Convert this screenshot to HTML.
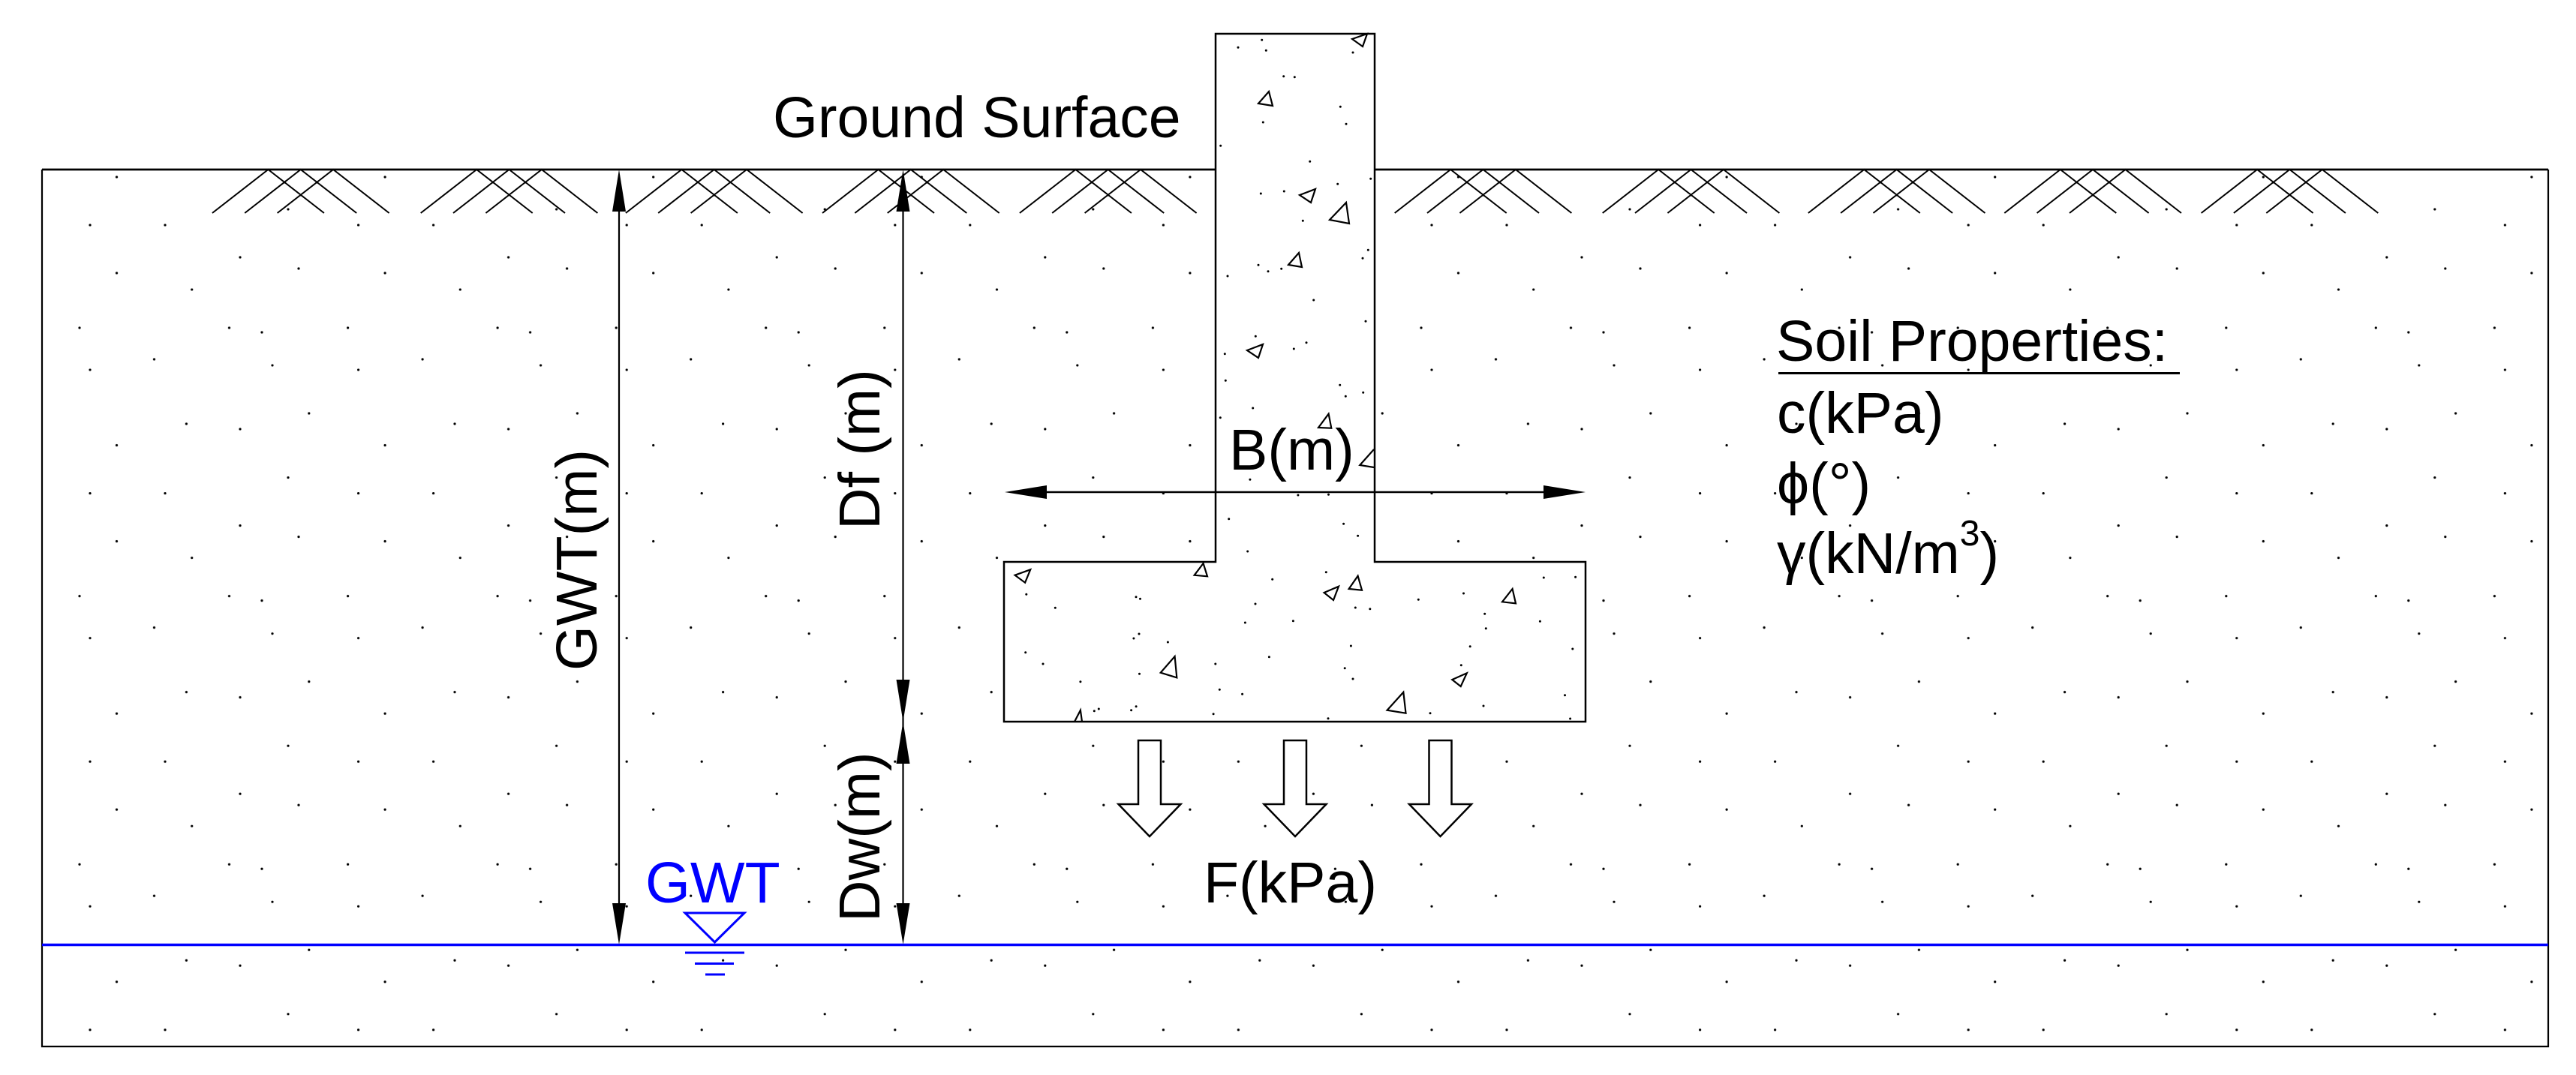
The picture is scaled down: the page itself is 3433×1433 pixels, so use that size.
<!DOCTYPE html>
<html>
<head>
<meta charset="utf-8">
<style>
html,body{margin:0;padding:0;background:#fff;}
svg{display:block;}
text{font-family:"Liberation Sans",Arial,"DejaVu Sans",sans-serif;}
</style>
</head>
<body>
<svg width="3433" height="1433" viewBox="0 0 3433 1433" xmlns="http://www.w3.org/2000/svg">
<defs>
<pattern id="sand" patternUnits="userSpaceOnUse" x="56" y="226" width="357.6" height="357.6">
<g fill="#000">
<circle cx="99.5" cy="10" r="1.6"/>
<circle cx="328" cy="53" r="1.6"/>
<circle cx="64" cy="74" r="1.6"/>
<circle cx="164" cy="74" r="1.6"/>
<circle cx="264" cy="117" r="1.6"/>
<circle cx="342" cy="132" r="1.6"/>
<circle cx="99.5" cy="138" r="1.6"/>
<circle cx="199.7" cy="160" r="1.6"/>
<circle cx="50" cy="211" r="1.6"/>
<circle cx="249.5" cy="211" r="1.6"/>
<circle cx="293" cy="217" r="1.6"/>
<circle cx="149.5" cy="253" r="1.6"/>
<circle cx="307" cy="261" r="1.6"/>
<circle cx="64" cy="267" r="1.6"/>
<circle cx="355.8" cy="325" r="1.6"/>
<circle cx="192.4" cy="339" r="1.6"/>
<circle cx="264" cy="346" r="1.6"/>
</g>
</pattern>
</defs>
<rect x="0" y="0" width="3433" height="1433" fill="#fff"/>
<!-- soil dots -->
<rect x="56" y="226" width="3340" height="1169" fill="url(#sand)"/>

<!-- concrete footing & column -->
<path d="M1620,749 V45 H1832 V749 H2113 V962 H1338 V749 Z" fill="#fff" stroke="#000" stroke-width="2.5" stroke-linejoin="miter"/>

<!-- concrete dots -->
<g fill="#000">
<circle cx="1681.7" cy="53.3" r="1.5"/><circle cx="1650" cy="63.3" r="1.5"/><circle cx="1687.3" cy="67.3" r="1.5"/><circle cx="1803" cy="70" r="1.5"/>
<circle cx="1710.7" cy="101.7" r="1.5"/><circle cx="1725.3" cy="102.7" r="1.5"/><circle cx="1786.3" cy="142.3" r="1.5"/><circle cx="1683.3" cy="163" r="1.5"/>
<circle cx="1794" cy="165.3" r="1.5"/><circle cx="1626.7" cy="194.3" r="1.5"/><circle cx="1745.7" cy="215.3" r="1.5"/><circle cx="1782.7" cy="245.3" r="1.5"/>
<circle cx="1826.7" cy="238.3" r="1.5"/><circle cx="1680.3" cy="258" r="1.5"/><circle cx="1711.3" cy="255" r="1.5"/><circle cx="1736.3" cy="294.3" r="1.5"/>
<circle cx="1823.3" cy="333.3" r="1.5"/><circle cx="1816" cy="344.3" r="1.5"/><circle cx="1677" cy="353.3" r="1.5"/><circle cx="1690" cy="361.7" r="1.5"/>
<circle cx="1707.7" cy="358.3" r="1.5"/><circle cx="1636" cy="368" r="1.5"/><circle cx="1750.7" cy="400" r="1.5"/><circle cx="1820" cy="428.3" r="1.5"/>
<circle cx="1673.3" cy="448.3" r="1.5"/><circle cx="1741" cy="456.7" r="1.5"/><circle cx="1724.3" cy="465" r="1.5"/><circle cx="1632.3" cy="471.7" r="1.5"/>
<circle cx="1633.3" cy="507.3" r="1.5"/><circle cx="1785.7" cy="513.3" r="1.5"/><circle cx="1816.7" cy="523.3" r="1.5"/><circle cx="1793.3" cy="528.3" r="1.5"/>
<circle cx="1669.7" cy="544" r="1.5"/><circle cx="1626.3" cy="556.7" r="1.5"/><circle cx="1665.9" cy="639.3" r="1.5"/><circle cx="1729.9" cy="660" r="1.5"/>
<circle cx="1770.5" cy="659.3" r="1.5"/><circle cx="1637.7" cy="691.7" r="1.5"/><circle cx="1790.6" cy="698.3" r="1.5"/><circle cx="1809.6" cy="714.3" r="1.5"/>
<circle cx="1662.7" cy="735" r="1.5"/><circle cx="1767.3" cy="762.7" r="1.5"/><circle cx="1695.7" cy="772.3" r="1.5"/><circle cx="1367.8" cy="792.3" r="1.5"/>
<circle cx="1514" cy="795.7" r="1.5"/><circle cx="1519.5" cy="798.3" r="1.5"/><circle cx="1406.3" cy="810.3" r="1.5"/><circle cx="1673" cy="805" r="1.5"/>
<circle cx="1890.3" cy="799.3" r="1.5"/><circle cx="1950.5" cy="791" r="1.5"/><circle cx="2057.3" cy="770" r="1.5"/><circle cx="2099.6" cy="769.3" r="1.5"/>
<circle cx="1806.3" cy="810" r="1.5"/><circle cx="1825.8" cy="811.7" r="1.5"/><circle cx="1978.7" cy="818.3" r="1.5"/><circle cx="1659.4" cy="830" r="1.5"/>
<circle cx="1723.4" cy="827.7" r="1.5"/><circle cx="2052.4" cy="828.3" r="1.5"/><circle cx="1980.3" cy="837.7" r="1.5"/><circle cx="1518" cy="845" r="1.5"/>
<circle cx="1510.9" cy="851" r="1.5"/><circle cx="1556.4" cy="856" r="1.5"/><circle cx="1800.4" cy="861" r="1.5"/><circle cx="1959.2" cy="861.7" r="1.5"/>
<circle cx="1366.7" cy="869.7" r="1.5"/><circle cx="1691.4" cy="875.7" r="1.5"/><circle cx="2095.8" cy="865" r="1.5"/><circle cx="1390" cy="885" r="1.5"/>
<circle cx="1619.8" cy="885" r="1.5"/><circle cx="1947.3" cy="886.7" r="1.5"/><circle cx="1792.2" cy="890.7" r="1.5"/><circle cx="1518.5" cy="898.3" r="1.5"/>
<circle cx="1803" cy="905" r="1.5"/><circle cx="1439.9" cy="908.7" r="1.5"/><circle cx="1625.3" cy="919.3" r="1.5"/><circle cx="1655.6" cy="925.3" r="1.5"/>
<circle cx="2085.5" cy="926.7" r="1.5"/><circle cx="1977" cy="941" r="1.5"/><circle cx="1514.1" cy="941.7" r="1.5"/><circle cx="1507.6" cy="946.7" r="1.5"/>
<circle cx="1464.3" cy="945" r="1.5"/><circle cx="1458.3" cy="947.7" r="1.5"/><circle cx="1617.1" cy="951.7" r="1.5"/><circle cx="1906" cy="950.7" r="1.5"/>
<circle cx="1770" cy="957.7" r="1.5"/><circle cx="2092.6" cy="958" r="1.5"/>
</g>

<!-- concrete triangles -->
<g fill="none" stroke="#000" stroke-width="2.2" stroke-linejoin="miter">
<polygon points="1802,52 1822,45 1816,62"/>
<polygon points="1677,138 1691,122 1696,141"/>
<polygon points="1732,260 1753,252 1747,270"/>
<polygon points="1772,293 1794,270 1798,298"/>
<polygon points="1717,353 1731,337 1735,356"/>
<polygon points="1662,467 1683,459 1677,477"/>
<polygon points="1757,570 1770.6,551.7 1774.3,570.7"/>
<polyline points="1831,599 1812.3,620 1831,623"/>
<polygon points="1352.6,766.7 1373.2,759.3 1366.1,776.7"/>
<polygon points="1591.7,766.7 1603.6,751 1609,768.3"/>
<polygon points="1764.6,790 1784,781.7 1777,800"/>
<polygon points="1797.6,785 1809.6,767.7 1815,786.7"/>
<polygon points="2002,802.3 2015.6,785 2020,804.3"/>
<polygon points="1546.7,896.7 1565.6,875 1568.3,903.3"/>
<polygon points="1935.3,906 1954.8,897.3 1946.7,915"/>
<polygon points="1848.6,946.7 1870.3,922.7 1873.5,950.7"/>
<polyline points="1432,962 1439.9,946.7 1442,962"/>
</g>

<!-- ground hatch -->
<path fill="none" stroke="#000" stroke-width="2" d="
M282.9 284L357.4 226L431.9 284 M326.2 284L400.7 226L475.2 284 M369.6 284L444.1 226L518.6 284
M560.7 284L635.2 226L709.7 284 M604 284L678.5 226L753 284 M647.4 284L721.9 226L796.4 284
M833.9 284L908.4 226L982.9 284 M877.2 284L951.7 226L1026.2 284 M920.6 284L995.1 226L1069.6 284
M1096 284L1170.5 226L1245 284 M1139.3 284L1213.8 226L1288.3 284 M1182.7 284L1257.2 226L1331.7 284
M1358.9 284L1433.4 226L1507.9 284 M1402.2 284L1476.7 226L1551.2 284 M1445.6 284L1520.1 226L1594.6 284
M1858.7 284L1933.2 226L2007.7 284 M1902 284L1976.5 226L2051 284 M1945.4 284L2019.9 226L2094.4 284
M2135.7 284L2210.2 226L2284.7 284 M2179 284L2253.5 226L2328 284 M2222.4 284L2296.9 226L2371.4 284
M2409.8 284L2484.3 226L2558.8 284 M2453.1 284L2527.6 226L2602.1 284 M2496.5 284L2571 226L2645.5 284
M2671.3 284L2745.8 226L2820.3 284 M2714.6 284L2789.1 226L2863.6 284 M2758 284L2832.5 226L2907 284
M2933.6 284L3008.1 226L3082.6 284 M2976.9 284L3051.4 226L3125.9 284 M3020.3 284L3094.8 226L3169.3 284"/>

<!-- soil box -->
<path d="M56,226 V1395 H3396 V226" fill="none" stroke="#000" stroke-width="2.2"/>
<path d="M56,226 H1620 M1832,226 H3396" fill="none" stroke="#000" stroke-width="2.8"/>

<!-- GWT line -->
<line x1="56" y1="1259.5" x2="3396" y2="1259.5" stroke="#0000ff" stroke-width="3.5"/>

<!-- GWT symbol -->
<g fill="none" stroke="#0000ff" stroke-width="3">
<polygon points="913,1217 992,1217 952.5,1256"/>
<line x1="913" y1="1270" x2="992" y2="1270"/>
<line x1="926" y1="1284.5" x2="978" y2="1284.5"/>
<line x1="940" y1="1299" x2="966" y2="1299"/>
</g>
<text x="860" y="1203" font-size="77" fill="#0000ff">GWT</text>

<!-- dimension lines -->
<g stroke="#000" stroke-width="2.2">
<line x1="825" y1="240" x2="825" y2="1250"/>
<line x1="1203.5" y1="240" x2="1203.5" y2="1250"/>
<line x1="1350" y1="656" x2="2100" y2="656" stroke-width="2.6"/>
</g>
<g fill="#000">
<polygon points="825,226 816,282 834,282"/>
<polygon points="825,1259 816,1204 834,1204"/>
<polygon points="1203.5,226 1194.5,282 1212.5,282"/>
<polygon points="1203.5,962 1194.5,906 1212.5,906"/>
<polygon points="1203.5,962 1194.5,1018 1212.5,1018"/>
<polygon points="1203.5,1259 1194.5,1204 1212.5,1204"/>
<polygon points="1339,656 1395,647 1395,665"/>
<polygon points="2113,656 2057,647 2057,665"/>
</g>

<!-- load arrows -->
<g fill="#fff" stroke="#000" stroke-width="2.5" stroke-linejoin="miter">
<path d="M1517,987 H1547 V1072 H1573.5 L1532,1115 L1490.5,1072 H1517 Z"/>
<path d="M1711,987 H1741 V1072 H1767.5 L1726,1115 L1684.5,1072 H1711 Z"/>
<path d="M1904.5,987 H1934.5 V1072 H1961 L1919.5,1115 L1878,1072 H1904.5 Z"/>
</g>

<!-- labels -->
<g font-size="77" fill="#000">
<text x="1030" y="183">Ground Surface</text>
<text x="1638" y="626">B(m)</text>
<text x="1604" y="1203">F(kPa)</text>
<text transform="translate(795,894) rotate(-90)">GWT(m)</text>
<text transform="translate(1172,706) rotate(-90)">Df (m)</text>
<text transform="translate(1172,1229) rotate(-90)">Dw(m)</text>
<text x="2367" y="481">Soil Properties:</text>
<text x="2368" y="577">c(kPa)</text>
<text x="2368" y="671">ϕ(°)</text>
<text x="2368" y="764">γ(kN/m<tspan font-size="48" dy="-37">3</tspan><tspan dy="37">)</tspan></text>
</g>
<line x1="2370" y1="497.5" x2="2905" y2="497.5" stroke="#000" stroke-width="3"/>
</svg>
</body>
</html>
